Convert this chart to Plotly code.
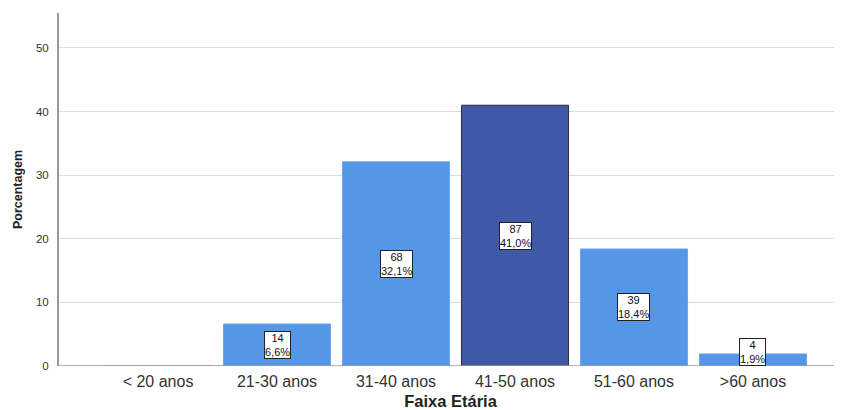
import plotly.graph_objects as go

categories = ["< 20 anos", "21-30 anos", "31-40 anos", "41-50 anos", "51-60 anos", ">60 anos"]
percentages = [0.0, 6.6, 32.1, 41.0, 18.4, 1.9]
counts = [0, 14, 68, 87, 39, 4]
pct_labels = ["0,0%", "6,6%", "32,1%", "41,0%", "18,4%", "1,9%"]
y_ticks = [0, 10, 20, 30, 40, 50]

LIGHT = "#5596E6"
DARK = "#3F58A8"
colors = [DARK if p == max(percentages) else LIGHT for p in percentages]
borders = ["#2A2F45" if p == max(percentages) else "#6FA6EA" for p in percentages]

FONT = "Liberation Sans, Arial, sans-serif"

fig = go.Figure()
fig.add_trace(go.Bar(
    x=list(range(len(categories))),
    y=percentages,
    width=0.9,
    marker=dict(color=colors, line=dict(color=borders, width=1)),
    hoverinfo="skip",
))

for i, (p, c, lab) in enumerate(zip(percentages, counts, pct_labels)):
    if c == 0:
        continue
    ypos = p / 2
    shift = 0
    if p < 4:
        ypos = 0
        shift = 14
    fig.add_annotation(
        x=i, y=ypos, yshift=shift,
        text=f"{c}<br>{lab}",
        showarrow=False,
        font=dict(family=FONT, size=11, color="#111"),
        bgcolor="white",
        bordercolor="#222",
        borderwidth=1,
        borderpad=0,
        align="center",
    )

# page body has an 8px default margin, compensate so the plot lands where the reference has it
fig.update_layout(
    width=834, height=402,
    margin=dict(l=51, r=0, t=5, b=44, autoexpand=False),
    paper_bgcolor="white",
    plot_bgcolor="white",
    showlegend=False,
    font=dict(family=FONT),
    xaxis=dict(
        range=[-0.832, 5.748],
        tickmode="array",
        tickvals=list(range(len(categories))),
        ticktext=categories,
        tickfont=dict(size=16, color="#333"),
        showgrid=False,
        zeroline=False,
        showline=False,
        ticks="",
        ticklabelstandoff=4,
        title=dict(text="<b>Faixa Etária</b>", font=dict(size=16.5, color="#222"), standoff=9),
    ),
    yaxis=dict(
        range=[0, 55.5],
        tickmode="array",
        tickvals=y_ticks,
        ticktext=[str(v) for v in y_ticks],
        tickfont=dict(size=11.5, color="#333"),
        showgrid=True,
        gridcolor="#DCDCDC",
        gridwidth=1,
        zeroline=False,
        showline=True,
        linecolor="#999",
        linewidth=2,
        ticks="",
        ticklabelstandoff=6,
        title=dict(text="<b>Porcentagem</b>", font=dict(size=12.5, color="#222"), standoff=11),
    ),
)

fig.add_shape(type="line", xref="paper", yref="y", x0=0, x1=1, y0=0, y1=0,
              line=dict(color="#999", width=1.5))

fig.write_html("out.html")
